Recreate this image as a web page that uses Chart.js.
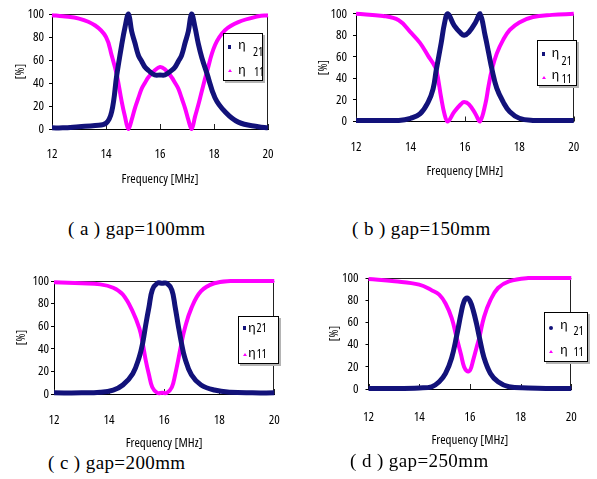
<!DOCTYPE html>
<html><head><meta charset="utf-8">
<script src="https://cdn.jsdelivr.net/npm/chart.js@4.4.1/dist/chart.umd.min.js"></script>
<style>
html,body{margin:0;padding:0;background:#fff;}
body{position:relative;width:597px;height:479px;overflow:hidden;}
canvas{position:absolute;}
.cap{position:absolute;font-family:"Liberation Serif","Times New Roman",serif;font-size:19px;line-height:20px;letter-spacing:0.4px;color:#000;white-space:pre;}
.lg{position:absolute;box-sizing:border-box;border:1px solid #000;background:#fff;box-shadow:2px 2px 0 #b4b4b4;}
.lg span{position:absolute;line-height:1;white-space:pre;color:#000;}
.eta{font-family:"Noto Sans CJK JP","DejaVu Serif",serif;font-size:13px;}
.num{font-size:12px;}
.mk{position:absolute;}
</style></head><body>
<script>
// ---------- data ----------
const xTickValues = [12, 14, 16, 18, 20];
const yTickValues = [0, 20, 40, 60, 80, 100];
const seriesNames = ['η 21', 'η 11'];
const captions = ['( a ) gap=100mm', '( b ) gap=150mm', '( c ) gap=200mm', '( d ) gap=250mm'];
const xTitle = 'Frequency [MHz]';
const yTitle = '[%]';

const freqA  = [12, 12.4, 13, 13.6, 14, 14.21, 14.4, 14.58, 14.7, 14.83, 14.95, 15.07, 15.2, 15.32, 15.44, 15.57, 15.81, 16, 16.18, 16.43, 16.56, 16.68, 16.8, 16.93, 17.05, 17.17, 17.3, 17.42, 17.55, 17.73, 18.04, 18.41, 18.9, 19.64, 20];
const eta21A = [1, 1, 2, 3, 5, 15, 47, 73, 88, 100, 85, 75, 64, 59, 54, 51, 47, 47, 47, 51, 54, 59, 64, 75, 85, 100, 88, 74, 62, 49, 27, 15, 6, 2, 1];
const eta11A = [99, 98, 96, 90, 80, 64, 47, 24, 11, 0, 8, 18, 27, 35, 40, 45, 51, 54, 52, 45, 40, 35, 27, 18, 8, 0, 11, 21, 33, 49, 73, 86, 93, 98, 99];

const freqB  = [12, 13, 13.57, 14, 14.35, 14.65, 14.83, 14.95, 15.13, 15.25, 15.37, 15.61, 15.85, 15.97, 16.15, 16.39, 16.55, 16.75, 16.87, 16.99, 17.17, 17.41, 17.65, 18, 18.5, 19.2, 20];
const eta21B = [1, 1, 1, 3, 7, 18, 30, 48, 73, 91, 100, 89, 82, 80, 83, 92, 100, 79, 64, 49, 31, 18, 9, 3, 1, 1, 1];
const eta11B = [100, 98, 94, 83, 73, 61, 54, 48, 22, 7, 0, 9, 16, 18, 16, 7, 0, 16, 33, 48, 63, 76, 85, 92, 97, 99, 100];

const freqC  = [12, 13, 13.68, 14.15, 14.5, 14.86, 15.1, 15.22, 15.33, 15.45, 15.57, 15.75, 15.93, 16.1, 16.28, 16.4, 16.51, 16.63, 16.75, 16.99, 17.34, 17.82, 18.41, 19.2, 20];
const eta21C = [1, 1, 1.5, 3.5, 8, 18, 33, 45, 61, 77, 92, 98, 98, 98, 92, 77, 61, 45, 32, 17, 8, 3.5, 1.5, 1, 1];
const eta11C = [99, 98, 97, 94, 88, 73, 58, 45, 30, 17, 6, 1, 1, 1, 6, 17, 30, 45, 58, 76, 91, 98, 100, 100, 100];

const freqD  = [12, 13.03, 14, 14.49, 14.79, 15.04, 15.28, 15.47, 15.65, 15.77, 15.89, 16.01, 16.13, 16.26, 16.38, 16.56, 16.81, 17.11, 17.54, 18.3, 19, 20];
const eta21D = [0.5, 0.5, 1, 2, 6.5, 14, 28, 47, 68, 79, 82, 79, 71, 59, 46, 28, 14, 6.5, 2, 1, 0.5, 0.5];
const eta11D = [99, 97, 94, 89, 85, 77, 64, 47, 31, 20, 16, 17, 26, 37, 47, 65, 80, 91, 97, 100, 100, 100];

// ---------- font choice (narrowest installed sans) ----------
function pickNarrowFont() {
  const c = document.createElement('canvas').getContext('2d');
  const sample = 'Frequency [MHz] 100 80';
  const cands = ['Liberation Sans Narrow', 'DejaVu Sans Condensed', 'Liberation Sans', 'Roboto', 'Lato', 'Noto Sans', 'Open Sans', 'Inter', 'DejaVu Sans'];
  let best = null;
  for (const f of cands) {
    c.font = '12px monospace'; const wm = c.measureText(sample).width;
    c.font = "12px '" + f + "', monospace"; const w = c.measureText(sample).width;
    c.font = '12px serif'; const ws = c.measureText(sample).width;
    c.font = "12px '" + f + "', serif"; const w2 = c.measureText(sample).width;
    if (w === wm && w2 === ws) continue;
    let stretch = '';
    let width = w;
    c.font = "condensed 12px '" + f + "', monospace";
    const wc = c.measureText(sample).width;
    if (wc < w - 0.5) { stretch = 'condensed'; width = wc; }
    if (!best || width < best.width) best = {family: f, stretch, width};
  }
  return best || {family: 'sans-serif', stretch: '', width: 0};
}
const NF = pickNarrowFont();
const NARROW = "'" + NF.family + "', sans-serif";
const NARROW_W = NF.stretch || undefined;
const isReallyNarrow = /Narrow|Condensed/.test(NF.family) || NF.stretch;
const TICK_SIZE = isReallyNarrow ? 13 : 12;
const TITLE_SIZE = isReallyNarrow ? 13 : 11;
const YTITLE_SIZE = isReallyNarrow ? 12 : 11;

// ---------- styling / layout ----------
const NAVY = '#12127a';
const MAGENTA = '#ff00ff';

const panels = [
  {freq: freqA, e21: eta21A, e11: eta11A, cap: captions[0],
   canvas: {l: 0, t: 0, w: 298, h: 205}, plot: {l: 52, t: 14, r: 268, b: 129},
   tickY: 154, titleY: 179, yTitleX: 21, yPad: 5, capPos: {l: 68, t: 219},
   legend: {l: 223, t: 33, w: 40, h: 48, m: 'sq',
     rows: [{my: 12, ex: 15, ey: 4, nx: 30, ny: 13.6}, {my: 36, ex: 15, ey: 29.4, nx: 31, ny: 33}]}},
  {freq: freqB, e21: eta21B, e11: eta11B, cap: captions[1],
   canvas: {l: 298, t: 0, w: 299, h: 205}, plot: {l: 356, t: 10, r: 579, b: 121.5},
   tickY: 147, titleY: 171, yTitleX: 324, yPad: 6, capPos: {l: 352, t: 219},
   legend: {l: 537, t: 40, w: 40, h: 46, m: 'sq',
     rows: [{my: 12, ex: 14.5, ey: 5, nx: 24.5, ny: 15}, {my: 35.5, ex: 14.5, ey: 26.5, nx: 24.5, ny: 33}]}},
  {freq: freqC, e21: eta21C, e11: eta11C, cap: captions[2],
   canvas: {l: 0, t: 240, w: 298, h: 212}, plot: {l: 54, t: 281, r: 280, b: 394},
   tickY: 420, titleY: 443, yTitleX: 22, yPad: 2, capPos: {l: 48, t: 453},
   legend: {l: 238, t: 316, w: 41, h: 48, m: 'sq',
     rows: [{my: 10, ex: 10, ey: 3.5, nx: 18.5, ny: 6.5}, {my: 37, ex: 10, ey: 29, nx: 18.5, ny: 32}]}},
  {freq: freqD, e21: eta21D, e11: eta11D, cap: captions[3],
   canvas: {l: 298, t: 240, w: 299, h: 212}, plot: {l: 368.5, t: 278, r: 587.5, b: 389},
   tickY: 417, titleY: 440, yTitleX: 335, yPad: 7, capPos: {l: 350, t: 451},
   legend: {l: 544, t: 312, w: 44, h: 50, m: 'dot',
     rows: [{my: 13.5, ex: 16, ey: 5, nx: 29.5, ny: 13.3}, {my: 38, ex: 16, ey: 30, nx: 29.5, ny: 34}]}}
];

const framePlugin = {
  id: 'frame',
  beforeDatasetsDraw(chart) {
    const {ctx, chartArea: a} = chart;
    const x = chart.scales.x;
    ctx.save();
    ctx.strokeStyle = '#222';
    ctx.lineWidth = 1;
    ctx.beginPath();
    ctx.moveTo(a.left, Math.round(a.top) + 0.5); ctx.lineTo(a.right, Math.round(a.top) + 0.5);
    ctx.moveTo(Math.round(a.right) - 0.5, a.top); ctx.lineTo(Math.round(a.right) - 0.5, a.bottom);
    x.ticks.forEach(t => {
      const px = Math.round(x.getPixelForValue(t.value)) + 0.5;
      ctx.moveTo(px, a.bottom); ctx.lineTo(px, a.bottom - 5);
    });
    ctx.stroke();
    ctx.restore();
  }
};

function makePanel(p) {
  const cv = document.createElement('canvas');
  cv.width = p.canvas.w; cv.height = p.canvas.h;
  cv.style.left = p.canvas.l + 'px'; cv.style.top = p.canvas.t + 'px';
  cv.style.width = p.canvas.w + 'px'; cv.style.height = p.canvas.h + 'px';
  document.body.appendChild(cv);

  const tickFont = {family: NARROW, size: TICK_SIZE, weight: NARROW_W};
  const tickLH = TICK_SIZE * 1.2;
  const titleFont = {family: NARROW, size: TITLE_SIZE, weight: NARROW_W};
  const titleLH = TITLE_SIZE * 1.2;
  const canvasBottom = p.canvas.t + p.canvas.h;

  const pts = arr => p.freq.map((f, i) => ({x: f, y: arr[i]}));

  new Chart(cv, {
    type: 'line',
    data: {
      datasets: [
        {label: seriesNames[0], data: pts(p.e21), borderColor: NAVY, backgroundColor: NAVY,
         borderWidth: 5, pointRadius: 0, tension: 0.4, clip: 6, fill: false},
        {label: seriesNames[1], data: pts(p.e11), borderColor: MAGENTA, backgroundColor: MAGENTA,
         borderWidth: 4, pointRadius: 0, tension: 0.4, clip: 6, fill: false}
      ]
    },
    options: {
      responsive: false, animation: false, devicePixelRatio: 1,
      layout: {padding: {left: 0, top: p.plot.t - p.canvas.t, right: p.canvas.l + p.canvas.w - p.plot.r, bottom: 0}},
      plugins: {legend: {display: false}, tooltip: {enabled: false}},
      scales: {
        x: {
          type: 'linear', min: 12, max: 20,
          afterBuildTicks: s => { s.ticks = xTickValues.map(v => ({value: v})); },
          afterFit: s => { s.height = canvasBottom - p.plot.b; },
          ticks: {color: '#000', font: tickFont, padding: p.tickY - p.plot.b - tickLH / 2, maxRotation: 0, autoSkip: false},
          grid: {drawOnChartArea: false, drawTicks: false},
          border: {display: true, color: '#000', width: 1},
          title: {display: true, text: xTitle, color: '#000', font: titleFont,
                  padding: {top: 0, bottom: canvasBottom - p.titleY - titleLH / 2}}
        },
        y: {
          min: 0, max: 100,
          afterBuildTicks: s => { s.ticks = yTickValues.map(v => ({value: v})); },
          afterFit: s => { s.width = p.plot.l - p.canvas.l; },
          ticks: {color: '#000', font: tickFont, padding: p.yPad},
          grid: {drawOnChartArea: false, drawTicks: true, tickLength: 3, color: '#000'},
          border: {display: true, color: '#000', width: 1},
          title: {display: true, text: yTitle, color: '#000', font: {family: NARROW, size: YTITLE_SIZE, weight: NARROW_W},
                  padding: {top: p.yTitleX - p.canvas.l - YTITLE_SIZE * 1.2 / 2, bottom: 0}}
        }
      }
    },
    plugins: [framePlugin]
  });

  // caption
  const cap = document.createElement('div');
  cap.className = 'cap';
  cap.textContent = p.cap;
  cap.style.left = p.capPos.l + 'px'; cap.style.top = p.capPos.t + 'px';
  document.body.appendChild(cap);

  // legend
  const L = p.legend;
  const box = document.createElement('div');
  box.className = 'lg';
  box.style.left = L.l + 'px'; box.style.top = L.t + 'px';
  box.style.width = L.w + 'px'; box.style.height = L.h + 'px';
  L.rows.forEach((r, i) => {
    const mk = document.createElement('div');
    mk.className = 'mk';
    if (i === 0) {
      mk.style.left = '4px'; mk.style.top = (r.my - 1) + 'px';
      mk.style.width = (L.m === 'dot' ? 4 : 3) + 'px'; mk.style.height = 4 + 'px';
      mk.style.background = NAVY;
      if (L.m === 'dot') mk.style.borderRadius = '50%';
    } else {
      mk.style.left = '4px'; mk.style.top = (r.my - 1) + 'px';
      mk.style.width = '0'; mk.style.height = '0';
      mk.style.borderLeft = '2px solid transparent';
      mk.style.borderRight = '2px solid transparent';
      mk.style.borderBottom = '3px solid ' + MAGENTA;
    }
    box.appendChild(mk);
    const parts = seriesNames[i].split(' ');
    const e = document.createElement('span');
    e.className = 'eta'; e.textContent = parts[0];
    e.style.left = (r.ex - 1) + 'px'; e.style.top = (r.ey - 1) + 'px';
    box.appendChild(e);
    const n = document.createElement('span');
    n.className = 'num'; n.textContent = parts[1];
    n.style.fontFamily = NARROW;
    if (NF.stretch) n.style.fontStretch = NF.stretch;
    n.style.left = (r.nx - 1) + 'px'; n.style.top = (r.ny - 1.5) + 'px';
    box.appendChild(n);
  });
  document.body.appendChild(box);
}

panels.forEach(makePanel);
</script>
</body></html>
